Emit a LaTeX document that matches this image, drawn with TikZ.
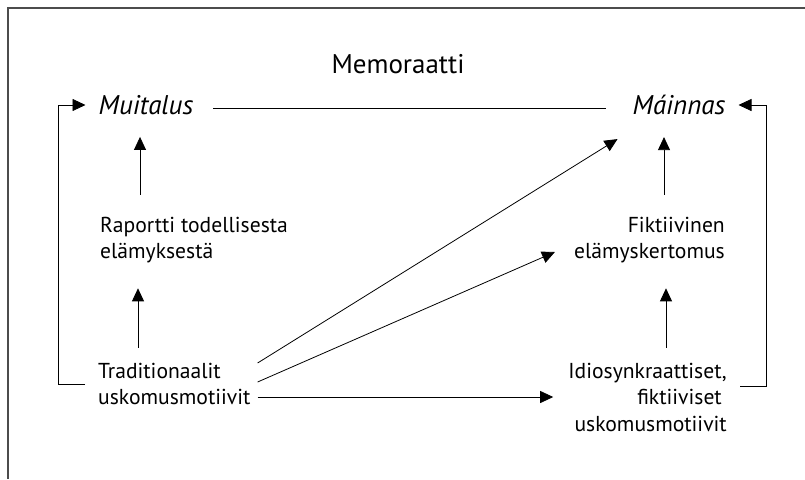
\documentclass[tikz,border=0pt]{standalone}
\usepackage{fontspec}
\setmainfont{PT Sans}
\usetikzlibrary{arrows.meta}
\newcommand{\lblfont}{\fontsize{21.6}{26.5}\selectfont}
\newcommand{\topfont}{\fontsize{27}{32}\selectfont}
\begin{document}
\begin{tikzpicture}[x=1pt,y=-1pt,
  lbl/.style={inner sep=0pt,font=\lblfont},
  toplbl/.style={inner sep=0pt,font=\topfont},
  arr/.style={line width=0.8pt,-{Triangle[length=13pt,width=12pt]}},
  ln/.style={line width=0.8pt},
  upar/.style={arr,shorten <=15pt,shorten >=25pt}]
  \useasboundingbox (0,0) rectangle (805,479);
  \draw[line width=1.2pt,black!70] (805,8) -- (8,8) -- (8,479);
  \node[toplbl] (memo) at (398,64) {Memoraatti};
  \node[toplbl,font=\topfont\itshape] (muit) at (146,105) {Muitalus};
  \node[toplbl,font=\topfont\itshape] (main) at (679,105) {Máinnas};
  \node[lbl,align=left,anchor=west] (rap) at (100,240) {Raportti todellisesta\\elämyksestä};
  \node[lbl,align=right,anchor=east] (fikt) at (725,240) {Fiktiivinen\\elämyskertomus};
  \node[lbl,align=left,anchor=west] (trad) at (98,384) {Traditionaalit\\uskomusmotiivit};
  \node[lbl,align=right,anchor=east] (idio) at (727,397) {Idiosynkraattiset,\\fiktiiviset\kern5pt\\uskomusmotiivit};
  \draw[ln] ([xshift=20pt,yshift=-3pt]muit.east) -- ([xshift=-27pt,yshift=-3pt]main.west);
  \draw[arr] ([xshift=-13pt]trad.west) -- ++(-27pt,0) |- ([xshift=-13pt]muit.west);
  \draw[arr] ([xshift=13pt,yshift=11pt]idio.east) -- ++(26pt,0) |- ([xshift=13pt]main.east);
  \draw[upar,shorten <=22pt,shorten >=22pt] ([xshift=40pt]rap.north west) -- ([xshift=40pt]rap.north west |- muit.south);
  \draw[upar] ([xshift=40pt]trad.north west) -- ([xshift=40pt]trad.north west |- rap.south);
  \draw[upar,shorten <=22pt,shorten >=22pt] ([xshift=-61pt]fikt.north east) -- ([xshift=-61pt]fikt.north east |- main.south);
  \draw[upar] ([xshift=-61pt]idio.north east) -- ([xshift=-61pt]idio.north east |- fikt.south);
  \draw[arr] ([xshift=7pt,yshift=21pt]trad.east) -- ([xshift=-15pt,yshift=-24pt]main.south west);
  \draw[arr] ([xshift=7pt,yshift=2pt]trad.east) -- ([xshift=-19pt,yshift=-12pt]fikt.west);
  \draw[arr] ([xshift=7pt,yshift=-13pt]trad.east) -- ([xshift=-15pt]idio.west);
\end{tikzpicture}
\end{document}
